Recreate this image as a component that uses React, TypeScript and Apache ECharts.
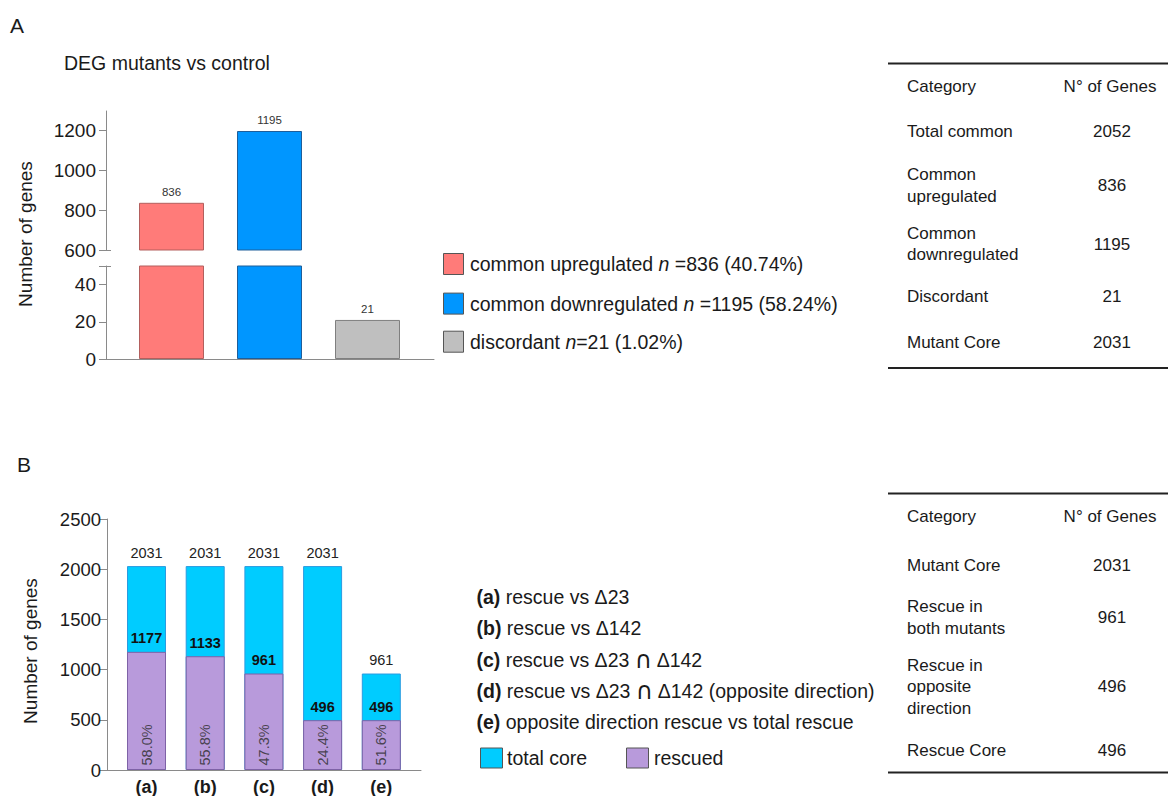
import React, { useEffect, useRef } from 'react';
import * as echarts from 'echarts';

// ---------- DATA ----------
const catsA = ['common upregulated', 'common downregulated', 'discordant'];
const valuesA = [836, 1195, 21];
const pctA = ['40.74', '58.24', '1.02'];
const nSepA = [' =', ' =', '='];
const upperTicksA = [600, 800, 1000, 1200];
const lowerTicksA = [0, 20, 40, 50];
const lowerLabelsA = [0, 20, 40];

const catsB = ['(a)', '(b)', '(c)', '(d)', '(e)'];
const totalB = [2031, 2031, 2031, 2031, 961];
const rescuedB = [1177, 1133, 961, 496, 496];
const pctB = ['58.0%', '55.8%', '47.3%', '24.4%', '51.6%'];
const legendBKeys = ['(a)', '(b)', '(c)', '(d)', '(e)'];
const legendBTexts = [
  'rescue vs Δ23',
  'rescue vs Δ142',
  'rescue vs Δ23 ∩ Δ142',
  'rescue vs Δ23 ∩ Δ142 (opposite direction)',
  'opposite direction rescue vs total rescue',
];
const seriesNamesB = ['total core', 'rescued'];

const tableAHead = ['Category', 'N° of Genes'];
const tableARows = [
  ['Total common', '2052'],
  ['Common\nupregulated', '836'],
  ['Common\ndownregulated', '1195'],
  ['Discordant', '21'],
  ['Mutant Core', '2031'],
];
const tableBHead = ['Category', 'N° of Genes'];
const tableBRows = [
  ['Mutant Core', '2031'],
  ['Rescue in\nboth mutants', '961'],
  ['Rescue in\nopposite\ndirection', '496'],
  ['Rescue Core', '496'],
];

// ---------- STYLE / LAYOUT ----------
const FONT = '"Liberation Sans", Arial, Helvetica, sans-serif';
const INK = '#1a1a1a';
const AXIS = '#8a8a8a';
const colorsA = ['#FF7B79', '#0096FF', '#BFBFBF'];
const bordersA = ['#B35F5D', '#1F5E99', '#7F7F7F'];
const CYAN = '#00CCFF';
const CYAN_B = '#2A9BE0';
const PURPLE = '#B89ADB';
const PURPLE_B = '#7E62A6';

const A_BAND = 98;
const A_LEFT = 106;
const A_WIDTH = 328;
const A_FIRST = 65.5;
const A_XMIN = -A_FIRST / A_BAND;
const A_XMAX = A_XMIN + A_WIDTH / A_BAND;

const B_BAND = 58.7;
const B_LEFT = 107;
const B_WIDTH = 314;
const B_FIRST = 39.5;
const B_XMIN = -B_FIRST / B_BAND;
const B_XMAX = B_XMIN + B_WIDTH / B_BAND;

const tableARowY = [131.7, 185.5, 244.2, 296.7, 342.7];
const tableBRowY = [565, 617.5, 686.7, 750.7];
const LEG = 19.5;

function txt(x: number, y: number, text: string, size: number, o: any = {}) {
  const style: any = {
    text,
    fontSize: size,
    fontFamily: FONT,
    fontWeight: o.weight || 'normal',
    fill: o.fill || INK,
    textAlign: o.align || 'left',
    textVerticalAlign: 'middle',
  };
  if (o.lineHeight) style.lineHeight = o.lineHeight;
  if (o.rich) style.rich = o.rich;
  return { type: 'text', x, y, rotation: o.rotation || 0, silent: true, style, z: 10 };
}

function rule(x1: number, x2: number, y: number, w = 2, c = '#222') {
  return { type: 'line', silent: true, shape: { x1, y1: y, x2, y2: y }, style: { stroke: c, lineWidth: w } };
}

function square(x: number, y: number, w: number, h: number, fill: string) {
  return { type: 'rect', silent: true, shape: { x, y, width: w, height: h }, style: { fill, stroke: '#555', lineWidth: 1 } };
}

function buildGraphic() {
  const g: any[] = [];
  g.push(txt(10, 25, 'A', 21));
  g.push(txt(17, 464, 'B', 21));
  g.push(txt(64, 63, 'DEG mutants vs control', 19.5));
  g.push(txt(25, 234, 'Number of genes', 19, { align: 'center', rotation: Math.PI / 2 }));
  g.push(txt(30, 651, 'Number of genes', 19, { align: 'center', rotation: Math.PI / 2 }));

  // axis break marks (panel A)
  g.push(rule(99, 111, 250.5, 1, AXIS));
  g.push(rule(99, 111, 266.5, 1, AXIS));

  // Legend A
  const legY = [264, 303.6, 341.7];
  catsA.forEach((c, i) => {
    g.push(square(443.5, legY[i] - 10.5, 20, 21, colorsA[i]));
    const rich = {
      i: { fontStyle: 'italic', fontSize: LEG, fontFamily: FONT, fill: INK },
    };
    g.push(txt(470, legY[i], `${c} {i|n}${nSepA[i]}${valuesA[i]} (${pctA[i]}%)`, LEG, { rich }));
  });

  // Legend B
  const legBY = [596.7, 628.3, 660, 690.5, 721.7];
  legendBKeys.forEach((k, i) => {
    const rich = {
      b: { fontWeight: 'bold', fontSize: LEG, fontFamily: FONT, fill: INK },
      c: { fontSize: 24, fontFamily: '"DejaVu Sans", sans-serif', fill: INK, lineHeight: 22 },
    };
    const body = legendBTexts[i].split('∩').join('{c|∩}');
    g.push(txt(476.5, legBY[i], `{b|${k}} ${body}`, LEG, { rich }));
  });
  g.push(square(480.5, 748, 22, 20, CYAN));
  g.push(txt(507, 758, seriesNamesB[0], LEG));
  g.push(square(626.5, 748, 22, 20, PURPLE));
  g.push(txt(654, 758, seriesNamesB[1], LEG));

  // Table A
  g.push(rule(888, 1168, 63.5));
  g.push(rule(888, 1168, 368));
  g.push(txt(907, 86.7, tableAHead[0], 17));
  g.push(txt(1110, 86.7, tableAHead[1], 17, { align: 'center' }));
  tableARows.forEach((r, i) => {
    g.push(txt(907, tableARowY[i], r[0], 17, { lineHeight: 21.5 }));
    g.push(txt(1112, tableARowY[i], r[1], 17, { align: 'center' }));
  });

  // Table B
  g.push(rule(888, 1168, 493.5));
  g.push(rule(888, 1168, 772.5));
  g.push(txt(907, 516.7, tableBHead[0], 17));
  g.push(txt(1110, 516.7, tableBHead[1], 17, { align: 'center' }));
  tableBRows.forEach((r, i) => {
    g.push(txt(907, tableBRowY[i], r[0], 17, { lineHeight: 21.6 }));
    g.push(txt(1112, tableBRowY[i], r[1], 17, { align: 'center' }));
  });
  return g;
}

function barDataA(show: (v: number) => boolean) {
  return valuesA.map((v, i) => ({
    value: [i, v],
    itemStyle: { color: colorsA[i], borderColor: bordersA[i], borderWidth: 1 },
    label: { show: show(v) },
  }));
}

export default function App() {
  const ref = useRef<HTMLDivElement>(null);
  useEffect(() => {
    if (!ref.current) return;
    const chart = echarts.init(ref.current, undefined, { renderer: 'svg' });
    const axisLine = { show: true, onZero: false, lineStyle: { color: AXIS, width: 1 } };
    const tickLabel = { fontSize: 19, fontFamily: FONT, color: INK, formatter: (v: number) => String(v) };
    const option: any = {
      animation: false,
      backgroundColor: '#ffffff',
      grid: [
        { left: A_LEFT, top: 111, width: A_WIDTH, height: 139 },
        { left: A_LEFT, top: 266, width: A_WIDTH, height: 93 },
        { left: B_LEFT, top: 519, width: B_WIDTH, height: 252 },
      ],
      xAxis: [
        { gridIndex: 0, type: 'value', min: A_XMIN, max: A_XMAX, show: false },
        {
          gridIndex: 1, type: 'value', min: A_XMIN, max: A_XMAX,
          axisLine, axisTick: { show: false }, axisLabel: { show: false }, splitLine: { show: false },
        },
        {
          gridIndex: 2, type: 'value', min: B_XMIN, max: B_XMAX,
          axisLine, axisTick: { show: false }, splitLine: { show: false },
          axisLabel: {
            customValues: catsB.map((_, i) => i),
            formatter: (v: number) => catsB[Math.round(v)] ?? '',
            fontSize: 18, fontWeight: 'bold', fontFamily: FONT, color: INK, margin: 8,
          },
        },
      ],
      yAxis: [
        {
          gridIndex: 0, type: 'value', min: 600, max: 1295,
          axisLine, splitLine: { show: false },
          axisTick: { show: true, length: 7, customValues: upperTicksA, lineStyle: { color: AXIS } },
          axisLabel: { ...tickLabel, margin: 10, customValues: upperTicksA },
        },
        {
          gridIndex: 1, type: 'value', min: 0, max: 50,
          axisLine, splitLine: { show: false },
          axisTick: { show: true, length: 7, customValues: lowerTicksA, lineStyle: { color: AXIS } },
          axisLabel: { ...tickLabel, margin: 10, customValues: lowerLabelsA },
        },
        {
          gridIndex: 2, type: 'value', min: 0, max: 2500, interval: 500,
          axisLine, splitLine: { show: false },
          axisTick: { show: true, length: 7, lineStyle: { color: AXIS } },
          axisLabel: { ...tickLabel, fontSize: 18.5, margin: 6, verticalAlign: 'middle', padding: [0, 0, 11, 0] },
        },
      ],
      series: [
        {
          type: 'bar', xAxisIndex: 0, yAxisIndex: 0, barWidth: 65, clip: true,
          data: barDataA((v) => v > 600),
          label: {
            position: 'top', distance: 5, fontSize: 11.5, fontFamily: FONT, color: '#333',
            formatter: (p: any) => String(p.value[1]),
          },
        },
        {
          type: 'bar', xAxisIndex: 1, yAxisIndex: 1, barWidth: 65, clip: true,
          data: barDataA((v) => v <= 50),
          label: {
            position: 'top', distance: 5, fontSize: 11.5, fontFamily: FONT, color: '#333',
            formatter: (p: any) => String(p.value[1]),
          },
        },
        {
          // total core (full height); rescued is drawn over it from the base
          name: seriesNamesB[0], type: 'bar', xAxisIndex: 2, yAxisIndex: 2, barWidth: 39, barGap: '-100%',
          data: totalB.map((v, i) => [i, v]),
          itemStyle: { color: CYAN, borderColor: CYAN_B, borderWidth: 1 },
          label: {
            show: true, position: 'top', distance: 6,
            fontSize: 14.5, fontFamily: FONT, color: '#222',
            formatter: (p: any) => String(p.value[1]),
          },
        },
        {
          name: seriesNamesB[1], type: 'bar', xAxisIndex: 2, yAxisIndex: 2, barWidth: 39, barGap: '-100%',
          data: rescuedB.map((v, i) => [i, v]),
          itemStyle: { color: PURPLE, borderColor: PURPLE_B, borderWidth: 1 },
          label: {
            show: true, position: 'top', distance: 6,
            fontSize: 14.5, fontWeight: 'bold', fontFamily: FONT, color: '#111',
            formatter: (p: any) => String(p.value[1]),
          },
        },
        {
          type: 'scatter', xAxisIndex: 2, yAxisIndex: 2, symbolSize: 1, z: 5,
          itemStyle: { color: 'rgba(0,0,0,0)' }, silent: true,
          data: pctB.map((_, i) => [i, 0]),
          label: {
            show: true, position: 'top', distance: 4, rotate: 90, align: 'left', verticalAlign: 'middle',
            fontSize: 14.5, fontFamily: FONT, color: '#2a2a2a',
            formatter: (p: any) => pctB[p.dataIndex],
          },
        },
      ],
      graphic: buildGraphic(),
    };
    chart.setOption(option);
    return () => chart.dispose();
  }, []);
  return (
    <div
      ref={ref}
      style={{ position: 'absolute', left: 0, top: 0, width: 1168, height: 796, background: '#fff' }}
    />
  );
}
